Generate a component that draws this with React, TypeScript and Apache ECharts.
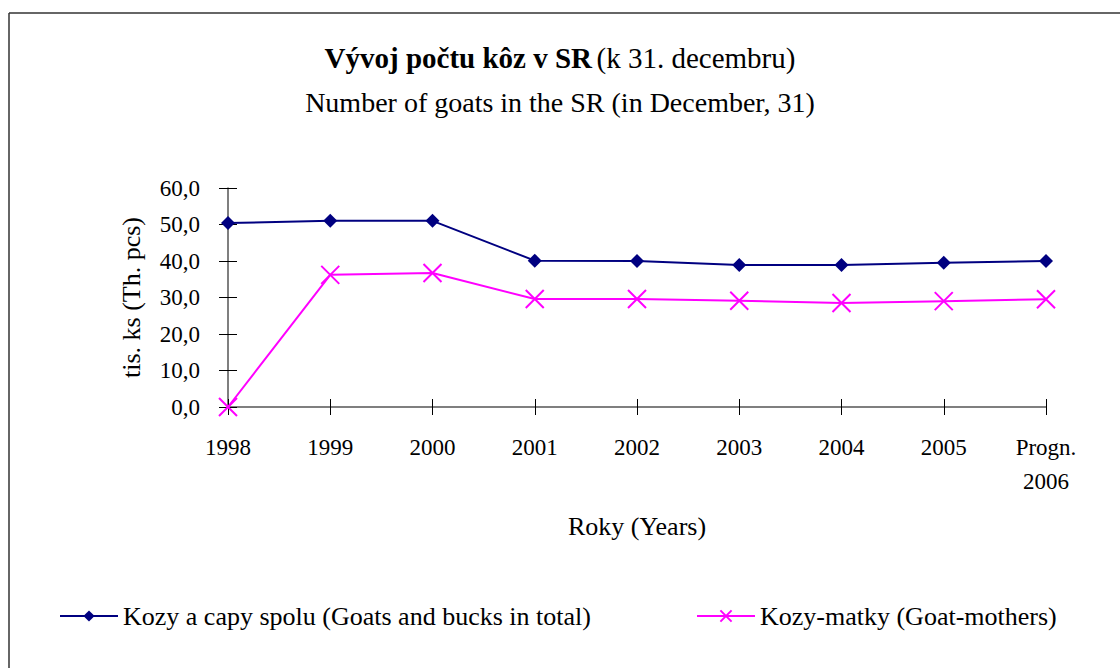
import React, { useEffect, useRef } from "react";
import * as echarts from "echarts";

const categories = ["1998", "1999", "2000", "2001", "2002", "2003", "2004", "2005", "Progn.\n2006"];
const totalGoats = [50.4, 51.0, 51.0, 40.1, 40.0, 38.9, 38.9, 39.5, 40.0];
const goatMothers = [0.0, 36.2, 36.7, 29.6, 29.6, 29.1, 28.5, 29.0, 29.5];
const seriesNames = ["Kozy a capy spolu (Goats and bucks in total)", "Kozy-matky (Goat-mothers)"];
const yMin = 0;
const yMax = 60;
const yStep = 10;

const FONT = "'Liberation Serif', 'Times New Roman', serif";
const CROSS = "path://M0,0L10,10M10,0L0,10";

export default function App() {
  const ref = useRef<HTMLDivElement>(null);
  useEffect(() => {
    const chart = echarts.init(ref.current!, null, { renderer: "svg" });
    const catAxisBase = {
      type: "category",
      data: categories,
      boundaryGap: false,
    };
    const valAxisBase = {
      type: "value",
      min: yMin,
      max: yMax,
      interval: yStep,
    };
    chart.setOption({
      animation: false,
      backgroundColor: "#ffffff",
      textStyle: { fontFamily: FONT, color: "#000" },
      title: [
        {
          text: "{b|Vývoj počtu kôz v SR} {n|(k 31. decembru)}",
          left: "center",
          top: 38,
          textStyle: {
            rich: {
              b: { fontFamily: FONT, fontSize: 29, fontWeight: "bold", color: "#000" },
              n: { fontFamily: FONT, fontSize: 29, fontWeight: "normal", color: "#000" },
            },
          },
        },
        {
          text: "Number of goats in the SR (in December, 31)",
          left: "center",
          top: 83,
          textStyle: { fontFamily: FONT, fontSize: 28, fontWeight: "normal", color: "#000" },
        },
      ],
      legend: [
        {
          data: [seriesNames[0]],
          left: 54,
          top: 598,
          itemWidth: 58,
          itemHeight: 14,
          textStyle: { fontFamily: FONT, fontSize: 26, color: "#000" },
        },
        {
          data: [seriesNames[1]],
          left: 691,
          top: 598,
          itemWidth: 58,
          itemHeight: 14,
          textStyle: { fontFamily: FONT, fontSize: 26, color: "#000" },
        },
      ],
      grid: { left: 228, right: 74, top: 188, bottom: 261, containLabel: false },
      xAxis: [
        {
          ...catAxisBase,
          name: "Roky (Years)",
          nameLocation: "middle",
          nameGap: 106,
          nameTextStyle: { fontFamily: FONT, fontSize: 26, color: "#000" },
          axisLine: { lineStyle: { color: "#555", width: 1.5 } },
          axisTick: { length: 8, lineStyle: { color: "#000", width: 1 } },
          axisLabel: {
            fontFamily: FONT,
            fontSize: 23,
            color: "#000",
            margin: 23,
            lineHeight: 34,
          },
          splitLine: { show: false },
        },
        {
          ...catAxisBase,
          position: "bottom",
          axisLine: { show: false },
          axisTick: { inside: true, length: 8, lineStyle: { color: "#000", width: 1 } },
          axisLabel: { show: false },
          splitLine: { show: false },
        },
      ],
      yAxis: [
        {
          ...valAxisBase,
          name: "tis. ks (Th. pcs)",
          nameLocation: "middle",
          nameGap: 84,
          nameTextStyle: { fontFamily: FONT, fontSize: 26, color: "#000" },
          axisLine: { show: true, lineStyle: { color: "#555", width: 1.5 } },
          axisTick: { show: true, length: 9, lineStyle: { color: "#000", width: 1 } },
          axisLabel: {
            fontFamily: FONT,
            fontSize: 23,
            color: "#000",
            margin: 28,
            formatter: (v: number) => v.toFixed(1).replace(".", ","),
          },
          splitLine: { show: false },
        },
        {
          ...valAxisBase,
          position: "left",
          axisLine: { show: false },
          axisTick: { show: true, inside: true, length: 9, lineStyle: { color: "#000", width: 1 } },
          axisLabel: { show: false },
          splitLine: { show: false },
        },
      ],
      series: [
        {
          name: seriesNames[0],
          type: "line",
          data: totalGoats,
          symbol: "diamond",
          symbolSize: 14,
          lineStyle: { color: "#000080", width: 2 },
          itemStyle: { color: "#000080" },
        },
        {
          name: seriesNames[1],
          type: "line",
          data: goatMothers,
          symbol: CROSS,
          symbolSize: 18,
          lineStyle: { color: "#FF00FF", width: 2 },
          itemStyle: { color: "#FF00FF", borderColor: "#FF00FF", borderWidth: 2 },
        },
      ],
      graphic: [
        {
          type: "line",
          shape: { x1: 9, y1: 13, x2: 1120, y2: 13 },
          style: { stroke: "#333", lineWidth: 1.5 },
        },
        {
          type: "line",
          shape: { x1: 9, y1: 13, x2: 9, y2: 668 },
          style: { stroke: "#333", lineWidth: 1.5 },
        },
      ],
    });
    return () => chart.dispose();
  }, []);
  return <div ref={ref} style={{ width: 1120, height: 668, position: "absolute", left: 0, top: 0 }} />;
}
